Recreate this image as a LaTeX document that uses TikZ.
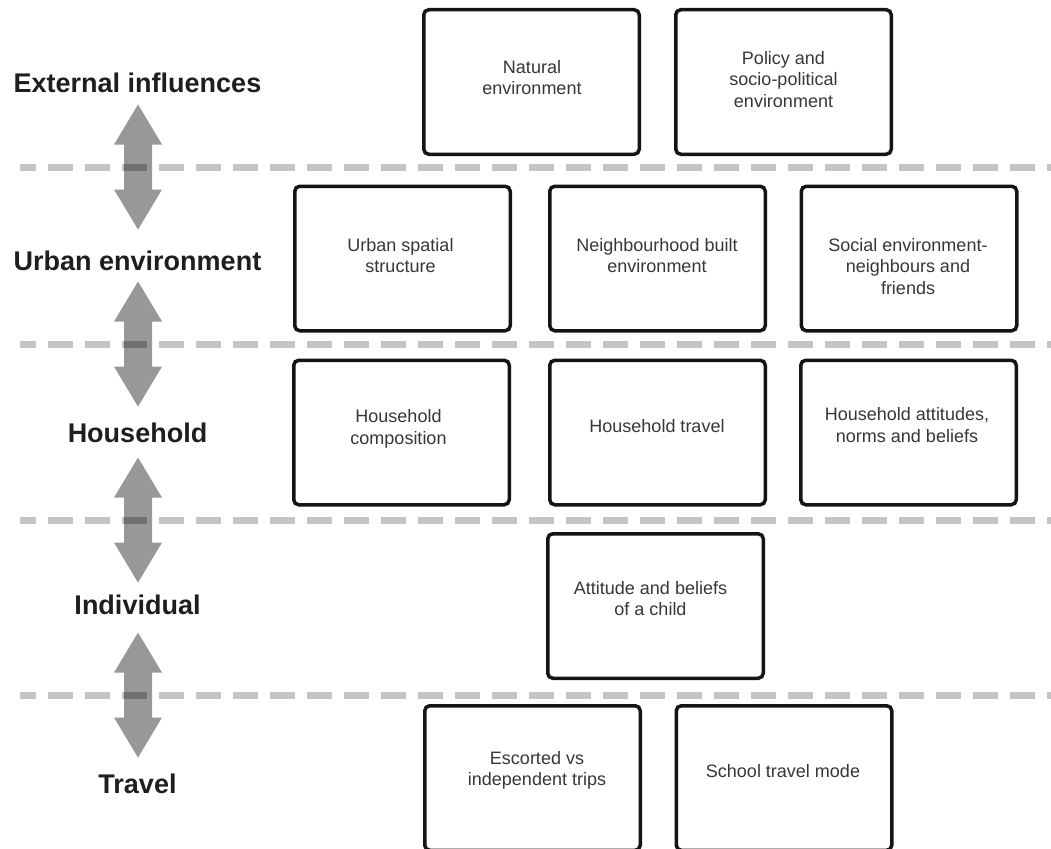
\documentclass[tikz,border=0pt]{standalone}
\usepackage{fontspec}
\setmainfont{Liberation Sans}
\definecolor{shaftgray}{RGB}{152,152,152}
\definecolor{dashgray}{RGB}{196,196,196}
\definecolor{overlapgray}{RGB}{112,112,112}
\definecolor{inkgray}{RGB}{55,55,55}
\definecolor{labelblack}{RGB}{30,30,30}
\definecolor{boxblack}{RGB}{20,20,20}
\begin{document}
\begin{tikzpicture}[x=1pt,y=-1pt,
  layerline/.style={line width=7pt, draw=dashgray, dash pattern=on 25pt off 12pt, dash phase=9pt},
  factorbox/.style={draw=boxblack, fill=white, line width=3.5pt, rounded corners=5pt,
    minimum width=215.5pt, minimum height=144.5pt, inner sep=0pt},
  factortext/.style={align=center, text=inkgray, font=\fontsize{18}{21.6}\selectfont, inner sep=0pt},
  levelname/.style={text=labelblack, font=\bfseries\fontsize{27}{32}\selectfont, inner sep=0pt},
]
\useasboundingbox (0,0) rectangle (1051,848);
\clip (0,0) rectangle (1051,848);

% dashed separators between the levels
\foreach \ly in {167,344,520,695}
  \draw[layerline] (20,\ly) -- (1051,\ly);

% two-way arrows across each separator; the shaft darkens the dash it covers
\foreach \cy in {167,344,520,695} {
  \fill[shaftgray] (138,\cy-62.5) -- (162,\cy-22.5) -- (152,\cy-22.5) -- (152,\cy+22.5)
    -- (162,\cy+22.5) -- (138,\cy+62.5) -- (114,\cy+22.5) -- (124,\cy+22.5)
    -- (124,\cy-22.5) -- (114,\cy-22.5) -- cycle;
  \begin{scope}
    \clip (124,\cy-22.5) rectangle (152,\cy+22.5);
    \draw[layerline, draw=overlapgray] (20,\cy) -- (1051,\cy);
  \end{scope}
}

% level names
\node[levelname] (lext) at (137.5,83)  {External influences};
\node[levelname] (lurb) at (137.5,261) {Urban environment};
\node[levelname] (lhou) at (137.5,433) {Household};
\node[levelname] (lind) at (137.5,605) {Individual};
\node[levelname] (ltra) at (137.5,784) {Travel};

% external influences
\node[factorbox] (nat) at (531.5,82) {};
\node[factorbox] (pol) at (783.5,82) {};
\node[factortext] (natt) at (532,77.5) {Natural\\environment};
\node[factortext] (polt) at (783.5,79.5) {Policy and\\socio-political\\environment};

% urban environment
\node[factorbox] (usp) at (402.5,258.5) {};
\node[factorbox] (nbe) at (657.5,258.5) {};
\node[factorbox] (soc) at (909,258.5) {};
\node[factortext] (uspt) at (400.5,255.5) {Urban spatial\\structure};
\node[factortext] (nbet) at (657,255.5) {Neighbourhood built\\environment};
\node[factortext] (soct) at (908,266.5) {Social environment-\\neighbours and\\friends};

% household
\node[factorbox] (hco) at (401.5,432.5) {};
\node[factorbox] (htr) at (657.5,432.5) {};
\node[factorbox] (hat) at (908.5,432.5) {};
\node[factortext] (hcot) at (398.5,429) {Household\\composition};
\node[factortext] (htrt) at (657,426.5) {Household travel};
\node[factortext] (hatt) at (907,425) {Household attitudes,\\norms and beliefs};

% individual
\node[factorbox] (chi) at (655.5,606) {};
\node[factortext] (chit) at (650.5,598.5) {Attitude and beliefs\\of a child};

% travel
\node[factorbox] (esc) at (532.5,778) {};
\node[factorbox] (stm) at (784,778) {};
\node[factortext] (esct) at (537,770.5) {Escorted vs\\independent trips};
\node[factortext] (stmt) at (783,771.5) {School travel mode};
\end{tikzpicture}
\end{document}
